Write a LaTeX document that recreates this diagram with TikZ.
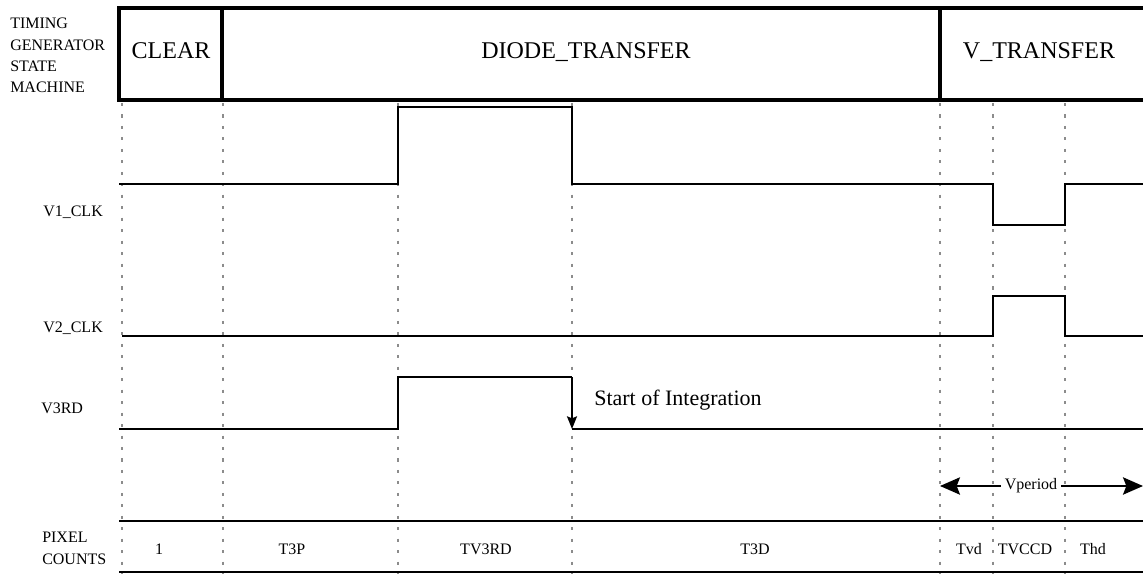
\documentclass[tikz,border=0pt]{standalone}
\usepackage{fontspec}
\setmainfont{Liberation Serif}
\usetikzlibrary{arrows.meta}

\tikzset{
  guide/.style={black!45, line width=1pt, dash pattern=on 2.3pt off 6.3pt},
  statebox/.style={line width=2.3pt},
  sig/.style={line width=1.2pt},
  rowline/.style={line width=1.3pt},
  statetext/.style={font=\fontsize{18}{22}\selectfont, inner sep=0pt, anchor=base},
  sidetext/.style={font=\fontsize{12}{16}\selectfont, inner sep=0pt, align=left},
  counttext/.style={font=\fontsize{12}{14}\selectfont, inner sep=0pt, anchor=base},
}

\begin{document}
\begin{tikzpicture}[x=0.75pt,y=-0.75pt]
\useasboundingbox (0,0) rectangle (1143,574);

% Guides
\foreach \gx in {122,223,398,572,940,993,1065}
  \draw[guide] (\gx,103) -- (\gx,574);

% State machine row
\draw[statebox] (1143,8) -- (119,8) -- (119,100) -- (1143,100);
\draw[statebox] (222,8) -- (222,100);
\draw[statebox] (940,8) -- (940,100);
\node[statetext] (clear) at (171,59) {CLEAR};
\node[statetext] (diode) at (586,59) {DIODE\_TRANSFER};
\node[statetext] (vtrans) at (1039,59) {V\_TRANSFER};

% Row labels
\node[sidetext,anchor=west] (tgsm) at (10,55.7) {TIMING\\GENERATOR\\STATE\\MACHINE};
\node[sidetext,anchor=base west] (v1lbl) at (43,217) {V1\_CLK};
\node[sidetext,anchor=base west] (v2lbl) at (43,332) {V2\_CLK};
\node[sidetext,anchor=base west] (v3lbl) at (41,413) {V3RD};
\node[sidetext,anchor=west] (pixlbl) at (42,548.2) {PIXEL\\COUNTS};

% V1_CLK
\draw[sig] (119,184) -- (398,184) -- (398,107) -- (572,107) -- (572,184)
  -- (993,184) -- (993,225) -- (1065,225) -- (1065,184) -- (1143,184);

% V2_CLK
\draw[sig] (122,336) -- (993,336) -- (993,296) -- (1065,296) -- (1065,336) -- (1143,336);

% V3RD
\coordinate (soitop) at (572,377);
\coordinate (soibot) at (572,429);
\draw[sig] (119,429) -- (398,429) -- (398,377) -- (soitop);
\draw[sig,-{Stealth[length=9.5pt,width=7.5pt,inset=1.5pt]}] (soitop) -- (soibot);
\draw[sig] (soibot) -- (1143,429);
\node[font=\fontsize{16.5}{20}\selectfont, inner sep=0pt, anchor=base west] (soi) at (594,405) {Start of Integration};

% Vperiod
\coordinate (vpl) at (940,486);
\coordinate (vpr) at (1143,486);
\node[font=\fontsize{12}{14}\selectfont, fill=white, inner xsep=3pt, inner ysep=1pt] (vper) at (1031,486) {Vperiod};
\draw[line width=1.4pt,-{Stealth[length=15pt,width=13pt,inset=2.5pt]}] (vper.west) -- (vpl);
\draw[line width=1.4pt,-{Stealth[length=15pt,width=13pt,inset=2.5pt]}] (vper.east) -- (vpr);

% Pixel counts
\draw[rowline] (119,521) -- (1143,521);
\draw[rowline] (119,572) -- (1143,572);
\node[counttext] (c1) at (159,554) {1};
\node[counttext] (ct3p) at (292,554) {T3P};
\node[counttext] (ctv3rd) at (486,554) {TV3RD};
\node[counttext] (ct3d) at (755,554) {T3D};
\node[counttext] (ctvd) at (969,554) {Tvd};
\node[counttext] (ctvccd) at (1025,554) {TVCCD};
\node[counttext] (cthd) at (1093,554) {Thd};
\end{tikzpicture}
\end{document}
